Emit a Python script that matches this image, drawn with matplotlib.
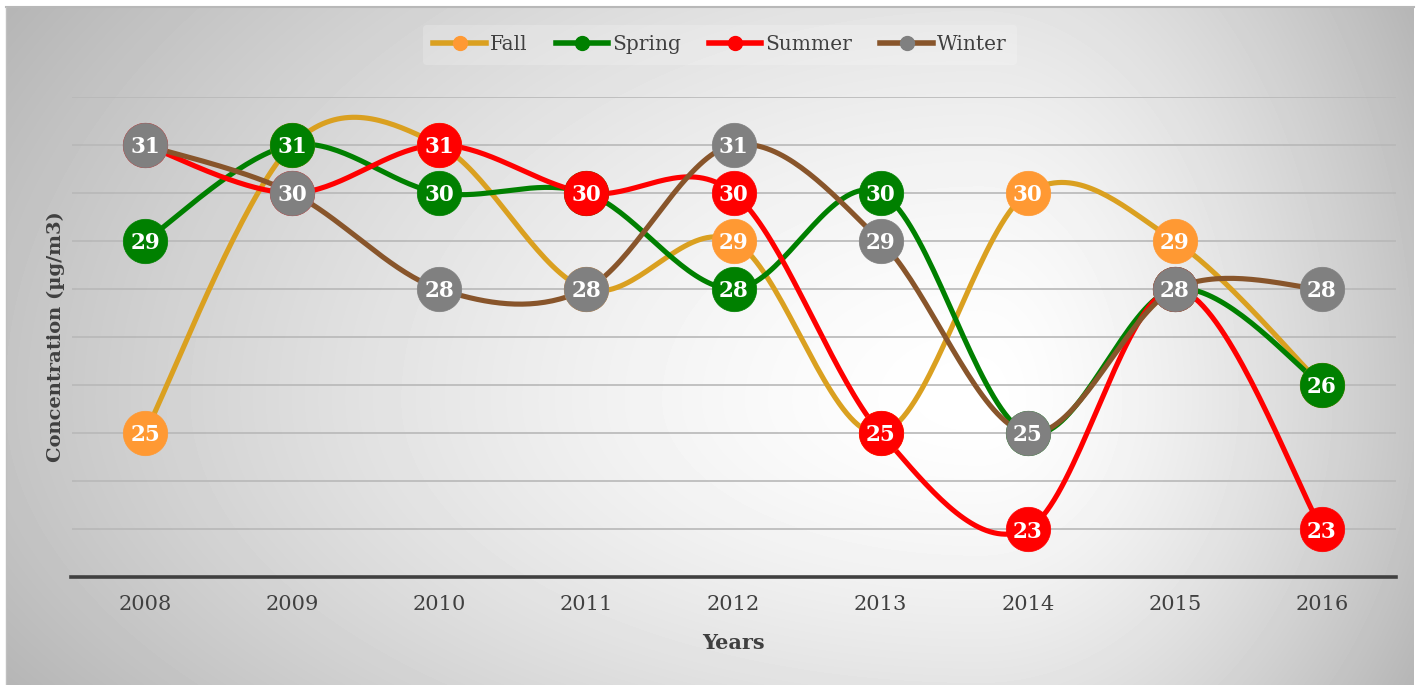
import numpy as np
import matplotlib
matplotlib.use('Agg')
import matplotlib.pyplot as plt
from matplotlib.lines import Line2D

# ---- data ----
years = ['2008', '2009', '2010', '2011', '2012', '2013', '2014', '2015', '2016']
fall = [25, 31, 31, 28, 29, 25, 30, 29, 26]
spring = [29, 31, 30, 30, 28, 30, 25, 28, 26]
summer = [31, 30, 31, 30, 30, 25, 23, 28, 23]
winter = [31, 30, 28, 28, 31, 29, 25, 28, 28]
series_names = ['Fall', 'Spring', 'Summer', 'Winter']
line_colors = ['#DAA020', '#008000', '#FF0000', '#88552B']
marker_colors = ['#FF9933', '#008000', '#FF0000', '#808080']

W, H = 1419, 685
FONT = 'DejaVu Serif'
TXT = '#404040'

fig = plt.figure(figsize=(W / 100, H / 100), dpi=100)

# ---- background gradient box ----
bx0, bx1, by0, by1 = 6, 1414, 7, 685
bg = fig.add_axes([bx0 / W, 0, (bx1 - bx0) / W, (by1 - by0) / H], zorder=-10)
gx = np.arange(bx0, bx1)
gy = np.arange(by0, by1)
X, Y = np.meshgrid(gx, gy)
cx, cy = 980, 400
dx = np.where(X < cx, (X - cx) / (cx - bx0), (X - cx) / (bx1 - cx))
dy = np.where(Y < cy, (Y - cy) / (cy - by0) * 0.6, (Y - cy) / (by1 - cy) * 0.6)
d = np.clip(np.sqrt(dx ** 2 + dy ** 2), 0, 1.3)
val = np.clip(1.0 - 0.23 * d ** 1.5, 0, 1)
bg.imshow(val, cmap='gray', vmin=0, vmax=1, aspect='auto', interpolation='bilinear')
bg.set_axis_off()
# top border line of box
fig.add_artist(Line2D([bx0 / W, bx1 / W], [1 - by0 / H, 1 - by0 / H], color='#b8b8b8', lw=1.5))
fig.add_artist(Line2D([bx0 / W, bx0 / W], [0, 1 - by0 / H], color='#c0c0c0', lw=1.0))

# ---- main axes ----
left, right = 71.5, 1395.5
top, bottom = 97, 577
ax = fig.add_axes([left / W, 1 - bottom / H, (right - left) / W, (bottom - top) / H])
ax.patch.set_alpha(0)
ax.set_xlim(-0.5, len(years) - 0.5)
ax.set_ylim(22, 32)
ax.set_yticks(range(22, 33))
ax.yaxis.grid(True, color='#b8b8b8', lw=1.2)
ax.set_axisbelow(True)
ax.tick_params(axis='y', length=0, labelleft=False)
ax.set_xticks(range(len(years)))
ax.set_xticklabels(years, fontsize=15, family=FONT, color=TXT)
ax.tick_params(axis='x', length=0, pad=13)
for s in ['left', 'right', 'top']:
    ax.spines[s].set_visible(False)
ax.spines['bottom'].set_color('#404040')
ax.spines['bottom'].set_linewidth(2.6)
ax.spines['bottom'].set_zorder(2.5)


def smooth(xs, ys, n=40):
    xs = np.asarray(xs, float)
    ys = np.asarray(ys, float)
    px = np.concatenate([[xs[0]], xs, [xs[-1]]])
    py = np.concatenate([[ys[0]], ys, [ys[-1]]])
    t = np.linspace(0, 1, n)
    ox, oy = [], []
    for i in range(len(xs) - 1):
        p0 = np.array([px[i], py[i]])
        p1 = np.array([px[i + 1], py[i + 1]])
        p2 = np.array([px[i + 2], py[i + 2]])
        p3 = np.array([px[i + 3], py[i + 3]])
        c1 = p1 + (p2 - p0) / 6.0
        c2 = p2 - (p3 - p1) / 6.0
        b = (np.outer((1 - t) ** 3, p1) + np.outer(3 * (1 - t) ** 2 * t, c1)
             + np.outer(3 * (1 - t) * t ** 2, c2) + np.outer(t ** 3, p2))
        if i > 0:
            b = b[1:]
        ox.append(b[:, 0])
        oy.append(b[:, 1])
    return np.concatenate(ox), np.concatenate(oy)


xpos = np.arange(len(years))
all_series = [fall, spring, summer, winter]
for k, (vals, lc) in enumerate(zip(all_series, line_colors)):
    sx, sy = smooth(xpos, vals)
    ax.plot(sx, sy, color=lc, lw=3.7, solid_capstyle='round', zorder=3 + k * 0.1, clip_on=False)

for k, (vals, mc) in enumerate(zip(all_series, marker_colors)):
    ax.plot(xpos, vals, ls='none', marker='o', markersize=32, markerfacecolor=mc,
            markeredgecolor=mc, markeredgewidth=0.5, zorder=5 + k, clip_on=False)
    for xi, v in zip(xpos, vals):
        ax.text(xi, v, str(v), ha='center', va='center_baseline', color='white',
                fontsize=15.5, fontweight='bold', family=FONT, zorder=5.5 + k)

# ---- axis titles ----
fig.text(733 / W, 1 - 643 / H, 'Years', ha='center', va='center', fontsize=15,
         fontweight='bold', family=FONT, color=TXT)
fig.text(56 / W, 1 - 337 / H, 'Concentration (µg/m3)', ha='center', va='center',
         rotation=90, fontsize=14, fontweight='bold', family=FONT, color=TXT)

# ---- legend ----
handles = [Line2D([0], [0], color=lc, lw=4, marker='o', markersize=10,
                  markerfacecolor=mc, markeredgecolor=mc)
           for lc, mc in zip(line_colors, marker_colors)]
leg = fig.legend(handles, series_names, loc='center', bbox_to_anchor=(720 / W, 1 - 45 / H),
                 ncol=4, frameon=True, fontsize=14.5, handlelength=2.6, handletextpad=0.2,
                 columnspacing=1.4, borderpad=0.5)
leg.get_frame().set_facecolor('white')
leg.get_frame().set_alpha(0.2)
leg.get_frame().set_edgecolor('none')
for t in leg.get_texts():
    t.set_color(TXT)
    t.set_family(FONT)

fig.savefig('out.png', dpi=100)
